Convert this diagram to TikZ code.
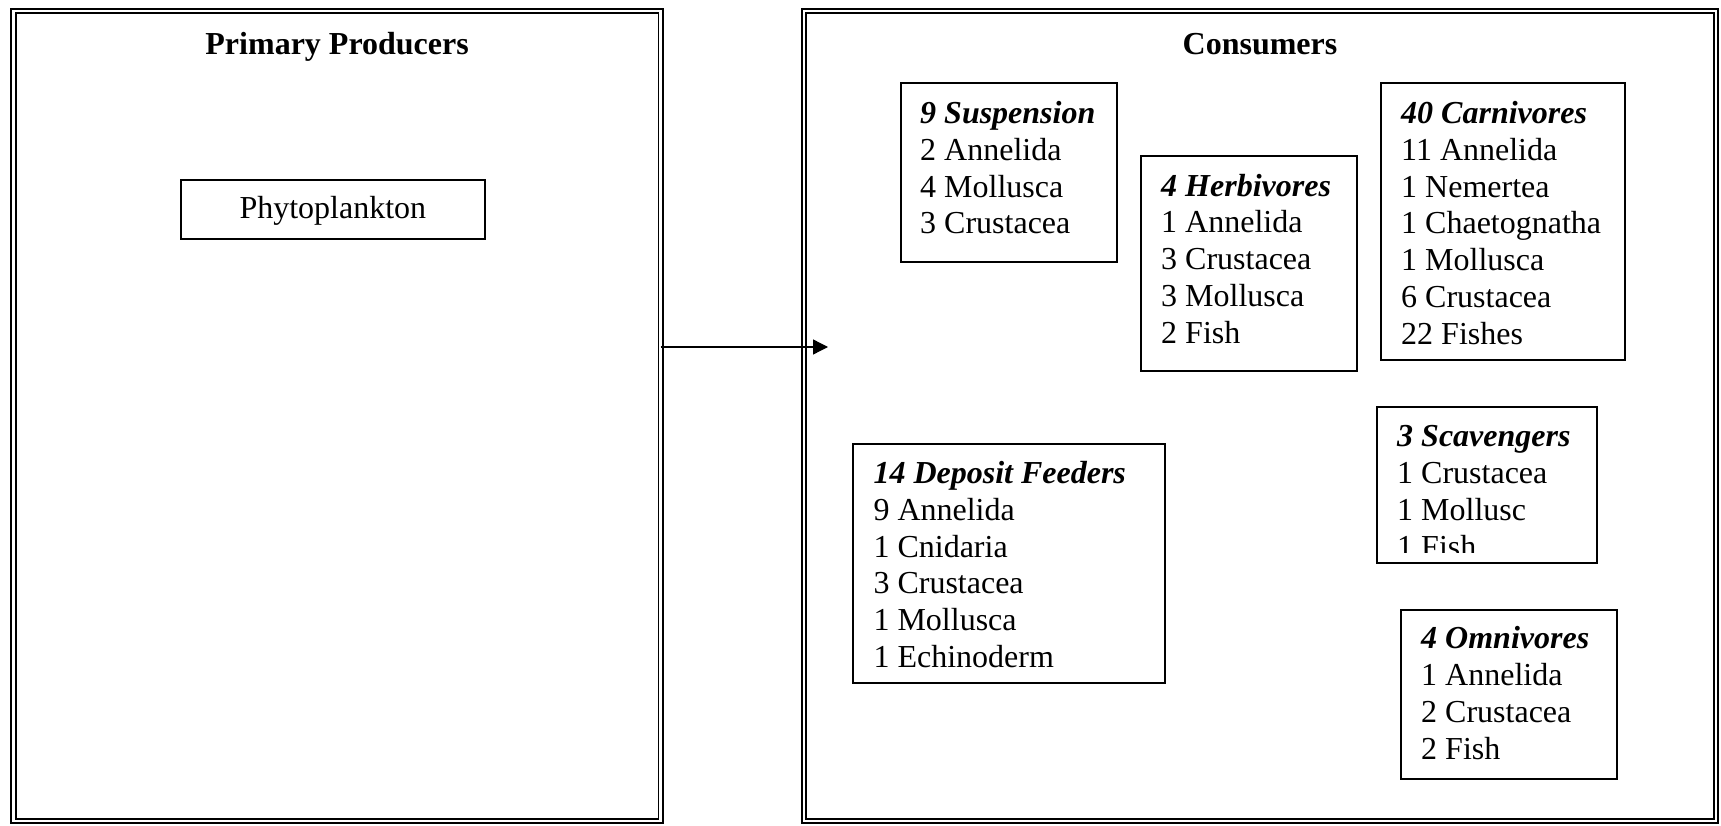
\documentclass[tikz,border=0pt]{standalone}
\usepackage{fontspec}
\setmainfont{Liberation Serif}
\usetikzlibrary{arrows.meta}
\newcommand{\grouphead}[1]{\textbf{\textit{#1}}}
\begin{document}
\begin{tikzpicture}[x=1pt,y=-1pt,
  panel/.style={draw, double, line width=1.7pt, double distance=2.8pt,
                inner sep=0pt, outer sep=0pt},
  paneltitle/.style={font=\fontsize{32}{36.8}\selectfont\bfseries,
                     anchor=base, inner sep=0pt},
  grp/.style={draw, line width=1.8pt, inner sep=0pt},
  plainbox/.style={draw, line width=1.8pt, inner sep=0pt,
                   font=\fontsize{32}{36.8}\selectfont,
                   text height=25pt, text depth=6pt},
  lst/.style={font=\fontsize{32}{36.8}\selectfont, align=left,
              anchor=north west, inner sep=0pt},
  flow/.style={line width=1.3pt, -{Triangle[length=15pt,width=15pt]}}
]
\useasboundingbox (0,0) rectangle (1721,826);

% the two panels
\node[panel, minimum width=647.2pt, minimum height=810pt] (producers) at (337.1,416) {};
\node[panel, minimum width=912pt, minimum height=810pt] (consumers) at (1260,416) {};
\node[paneltitle] (prodtitle) at (337.1,55) {Primary Producers};
\node[paneltitle] (constitle) at (1260,55) {Consumers};

% producers
\node[plainbox, minimum width=304.3pt, minimum height=59pt] (phyto) at (332.85,209.5) {Phytoplankton};

% consumer groups: frames
\node[grp, minimum width=216.6pt, minimum height=179.6pt] (susp) at (1009,172.5) {};
\node[grp, minimum width=216pt, minimum height=215.3pt] (herb) at (1249,263.35) {};
\node[grp, minimum width=244.3pt, minimum height=277pt] (carn) at (1503.15,221.8) {};
\node[grp, minimum width=312.3pt, minimum height=239.3pt] (depo) at (1008.85,563.65) {};
\node[grp, minimum width=220.3pt, minimum height=156.6pt] (scav) at (1486.85,485) {};
\node[grp, minimum width=216.3pt, minimum height=169.6pt] (omni) at (1509.15,694.5) {};

% consumer groups: contents
\node[lst] (susptxt) at (920,97.5) {\strut\grouphead{9 Suspension}\\2 Annelida\\4 Mollusca\\3 Crustacea};
\node[lst] (herbtxt) at (1161,170.2) {\strut\grouphead{4 Herbivores}\\1 Annelida\\3 Crustacea\\3 Mollusca\\2 Fish};
\node[lst] (carntxt) at (1401,97.5) {\strut\grouphead{40 Carnivores}\\11 Annelida\\1 Nemertea\\1 Chaetognatha\\1 Mollusca\\6 Crustacea\\22 Fishes};
\node[lst] (depotxt) at (873.3,457.5) {\strut\grouphead{14 Deposit Feeders}\\9 Annelida\\1 Cnidaria\\3 Crustacea\\1 Mollusca\\1 Echinoderm};
\begin{scope}
  \clip (1378.5,408.5) rectangle (1595,552);
  \node[lst] (scavtxt) at (1397,420.9) {\strut\grouphead{3 Scavengers}\\1 Crustacea\\1 Mollusc\\1 Fish};
\end{scope}
\node[lst] (omnitxt) at (1421,622.9) {\strut\grouphead{4 Omnivores}\\1 Annelida\\2 Crustacea\\2 Fish};

% energy flow from producers to consumers
\coordinate (flowend) at (828,347);
\draw[flow] (producers.east |- flowend) -- (flowend);
\end{tikzpicture}
\end{document}
